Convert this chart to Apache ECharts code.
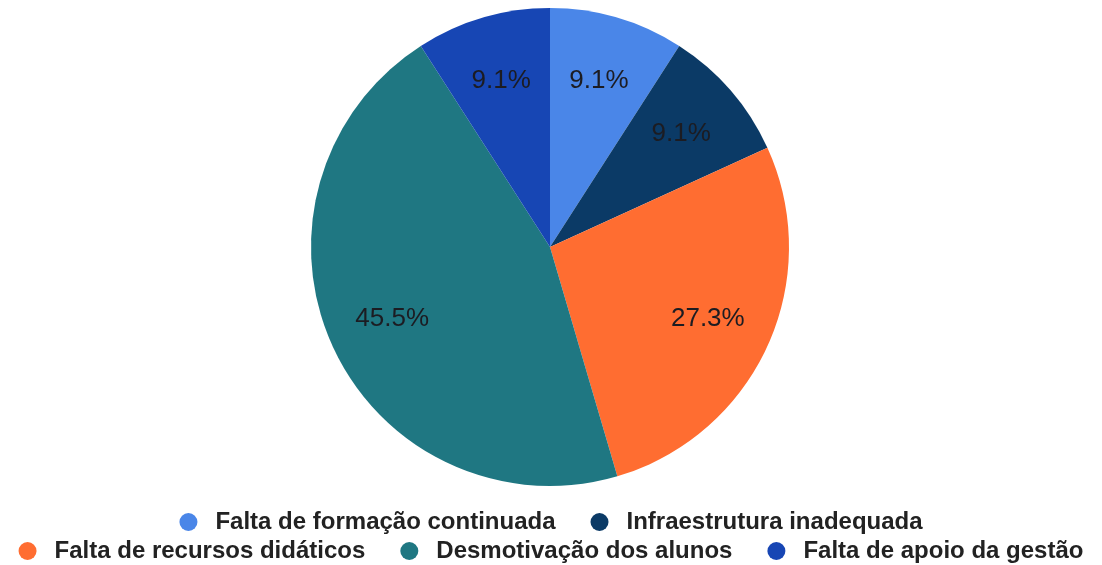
<!DOCTYPE html>
<html>
<head>
<meta charset="utf-8">
<script src="https://cdn.jsdelivr.net/npm/echarts@6/dist/echarts.min.js"></script>
<style>
  html, body { margin: 0; padding: 0; background: #fff; }
  #chart { width: 1102px; height: 565px; }
</style>
</head>
<body>
<div id="chart"></div>
<script>
// data (11 answers in total)
const categories = [
  'Falta de formação continuada',
  'Infraestrutura inadequada',
  'Falta de recursos didáticos',
  'Desmotivação dos alunos',
  'Falta de apoio da gestão'
]
const counts = [1, 1, 3, 5, 1]
const colors = ['#4a86e8', '#0b3a66', '#ff6d31', '#1f7782', '#1746b4']

const legendRow1 = categories.slice(0, 2)
const legendRow2 = categories.slice(2)

const myChart = echarts.init(document.getElementById('chart'))

const pieData = categories.map((name, i) => ({ name: name, value: counts[i] }))
const total = counts.reduce((a, b) => a + b, 0)

// wide icon box so the circle gets some air on both sides
const legendBase = {
  orient: 'horizontal',
  left: 'center',
  icon: 'circle',
  itemWidth: 44,
  itemHeight: 18,
  itemGap: 35,
  textStyle: {
    fontFamily: 'Liberation Sans, Arial, sans-serif',
    fontSize: 24,
    fontWeight: 'bold',
    color: '#222'
  }
}

let option = {
  animation: false,
  color: colors,
  legend: [
    Object.assign({}, legendBase, { data: legendRow1, top: 505 }),
    Object.assign({}, legendBase, { data: legendRow2, top: 534 })
  ],
  series: [
    {
      type: 'pie',
      center: [550, 247],
      radius: [0, 239],
      startAngle: 90,
      clockwise: true,
      label: { show: false },
      labelLine: { show: false },
      emphasis: { disabled: true },
      data: pieData
    },
    {
      // transparent overlay, only used to place the percent labels further out
      type: 'pie',
      center: [550, 247],
      radius: [102, 239],
      startAngle: 90,
      clockwise: true,
      silent: true,
      itemStyle: { color: 'rgba(0,0,0,0)' },
      label: {
        show: true,
        position: 'inside',
        fontFamily: 'Liberation Sans, Arial, sans-serif',
        fontSize: 26,
        color: '#1c1c22',
        formatter: p => (p.value / total * 100).toFixed(1) + '%'
      },
      labelLine: { show: false },
      emphasis: { disabled: true },
      data: pieData
    }
  ]
}

myChart.setOption(option)
</script>
</body>
</html>
